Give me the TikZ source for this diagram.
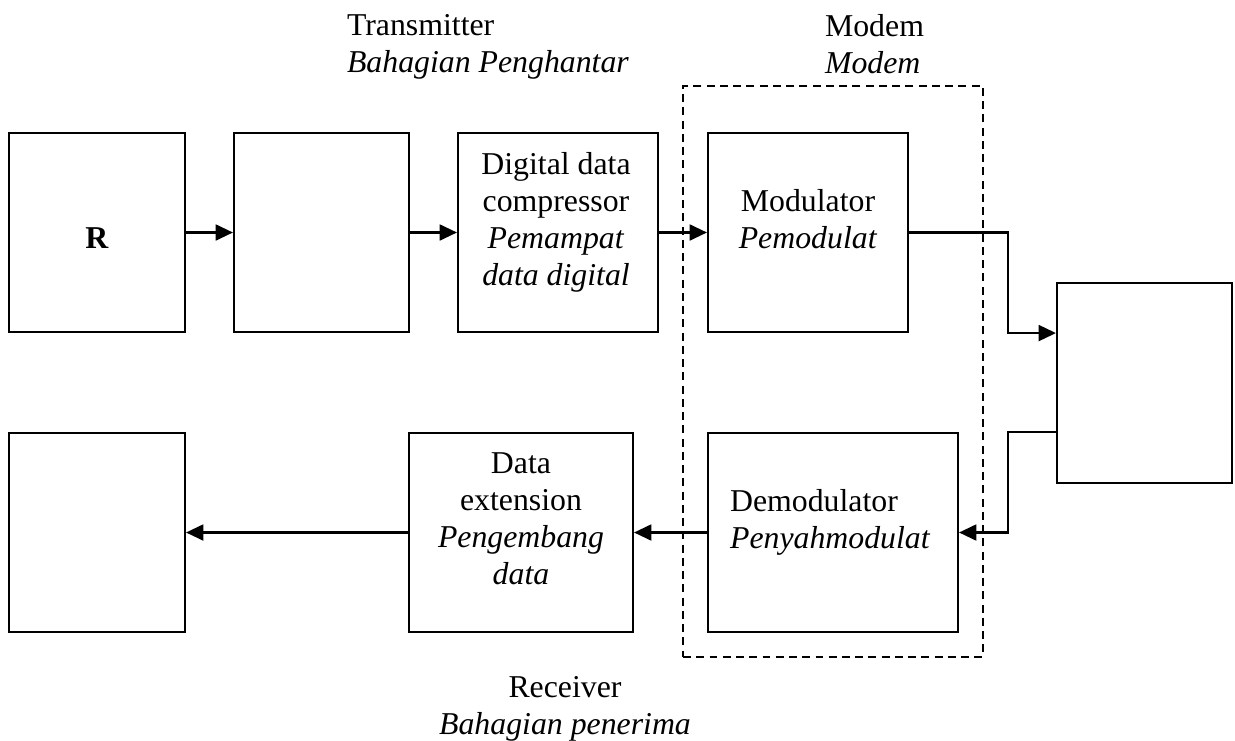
\documentclass[tikz,border=0pt]{standalone}
\usepackage{fontspec}
\setmainfont{Liberation Serif}
\usetikzlibrary{arrows.meta}

\begin{document}
\begin{tikzpicture}[x=0.3774pt,y=-0.3774pt,line width=0.8pt,
  kotak/.style 2 args={draw,minimum width=#1*0.3774pt,minimum height=#2*0.3774pt,inner sep=0pt},
  tulisan/.style={inner sep=0pt,font=\fontsize{12}{13.96}\selectfont},
  panah/.style={-{Triangle[length=6.5pt,width=6pt]}}]
  \useasboundingbox (0,0) rectangle (1235,740);
  \node[kotak={176}{199}] (rbox) at (97,232.5) {};
  \node[kotak={175}{199}] (kosong) at (321.5,232.5) {};
  \node[kotak={200}{199}] (pemampat) at (558,232.5) {};
  \node[kotak={200}{199}] (modulator) at (808,232.5) {};
  \node[kotak={175}{200}] (saluran) at (1144.5,383) {};
  \node[kotak={176}{199}] (keluaran) at (97,532.5) {};
  \node[kotak={224}{199}] (pengembang) at (521,532.5) {};
  \node[kotak={250}{199}] (demodulator) at (833,532.5) {};
  \node[kotak={300}{571},dash pattern=on 3pt off 2pt] (modem) at (833,371.5) {};
  \node[tulisan,anchor=base] (rtxt) at (97,248) {\textbf{R}};
  \node[tulisan,anchor=north,align=center] (pemampattxt) at (556,151) {Digital data\\compressor\\\textit{Pemampat}\\\textit{data digital}};
  \node[tulisan,anchor=north,align=center] (modulatortxt) at (808,188) {Modulator\\\textit{Pemodulat}};
  \node[tulisan,anchor=north west,align=left] (demodulatortxt) at (729,488) {Demodulator\\\textit{Penyahmodulat}};
  \node[tulisan,anchor=north,align=center] (pengembangtxt) at (521,452) {Data\\extension\\\textit{Pengembang}\\\textit{data}};
  \node[tulisan,anchor=north west,align=left] (pemancar) at (346,13) {Transmitter\\\textit{Bahagian Penghantar}};
  \node[tulisan,anchor=north west,align=left] (modemtxt) at (824,13) {Modem\\\textit{Modem}};
  \node[tulisan,anchor=north,align=center] (penerima) at (565,675) {Receiver\\\textit{Bahagian penerima}};
  \coordinate (belok) at (1008,383);
  \draw[panah] (rbox) -- (kosong);
  \draw[panah] (kosong) -- (pemampat);
  \draw[panah] (pemampat) -- (modulator);
  \draw[panah] (modulator.east) -| (belok |- modulator.south) -- (saluran.west |- modulator.south);
  \draw[panah] (saluran.west |- demodulator.north) -| (belok |- demodulator.east) -- (demodulator.east);
  \draw[panah] (demodulator) -- (pengembang);
  \draw[panah] (pengembang) -- (keluaran);
\end{tikzpicture}
\end{document}
